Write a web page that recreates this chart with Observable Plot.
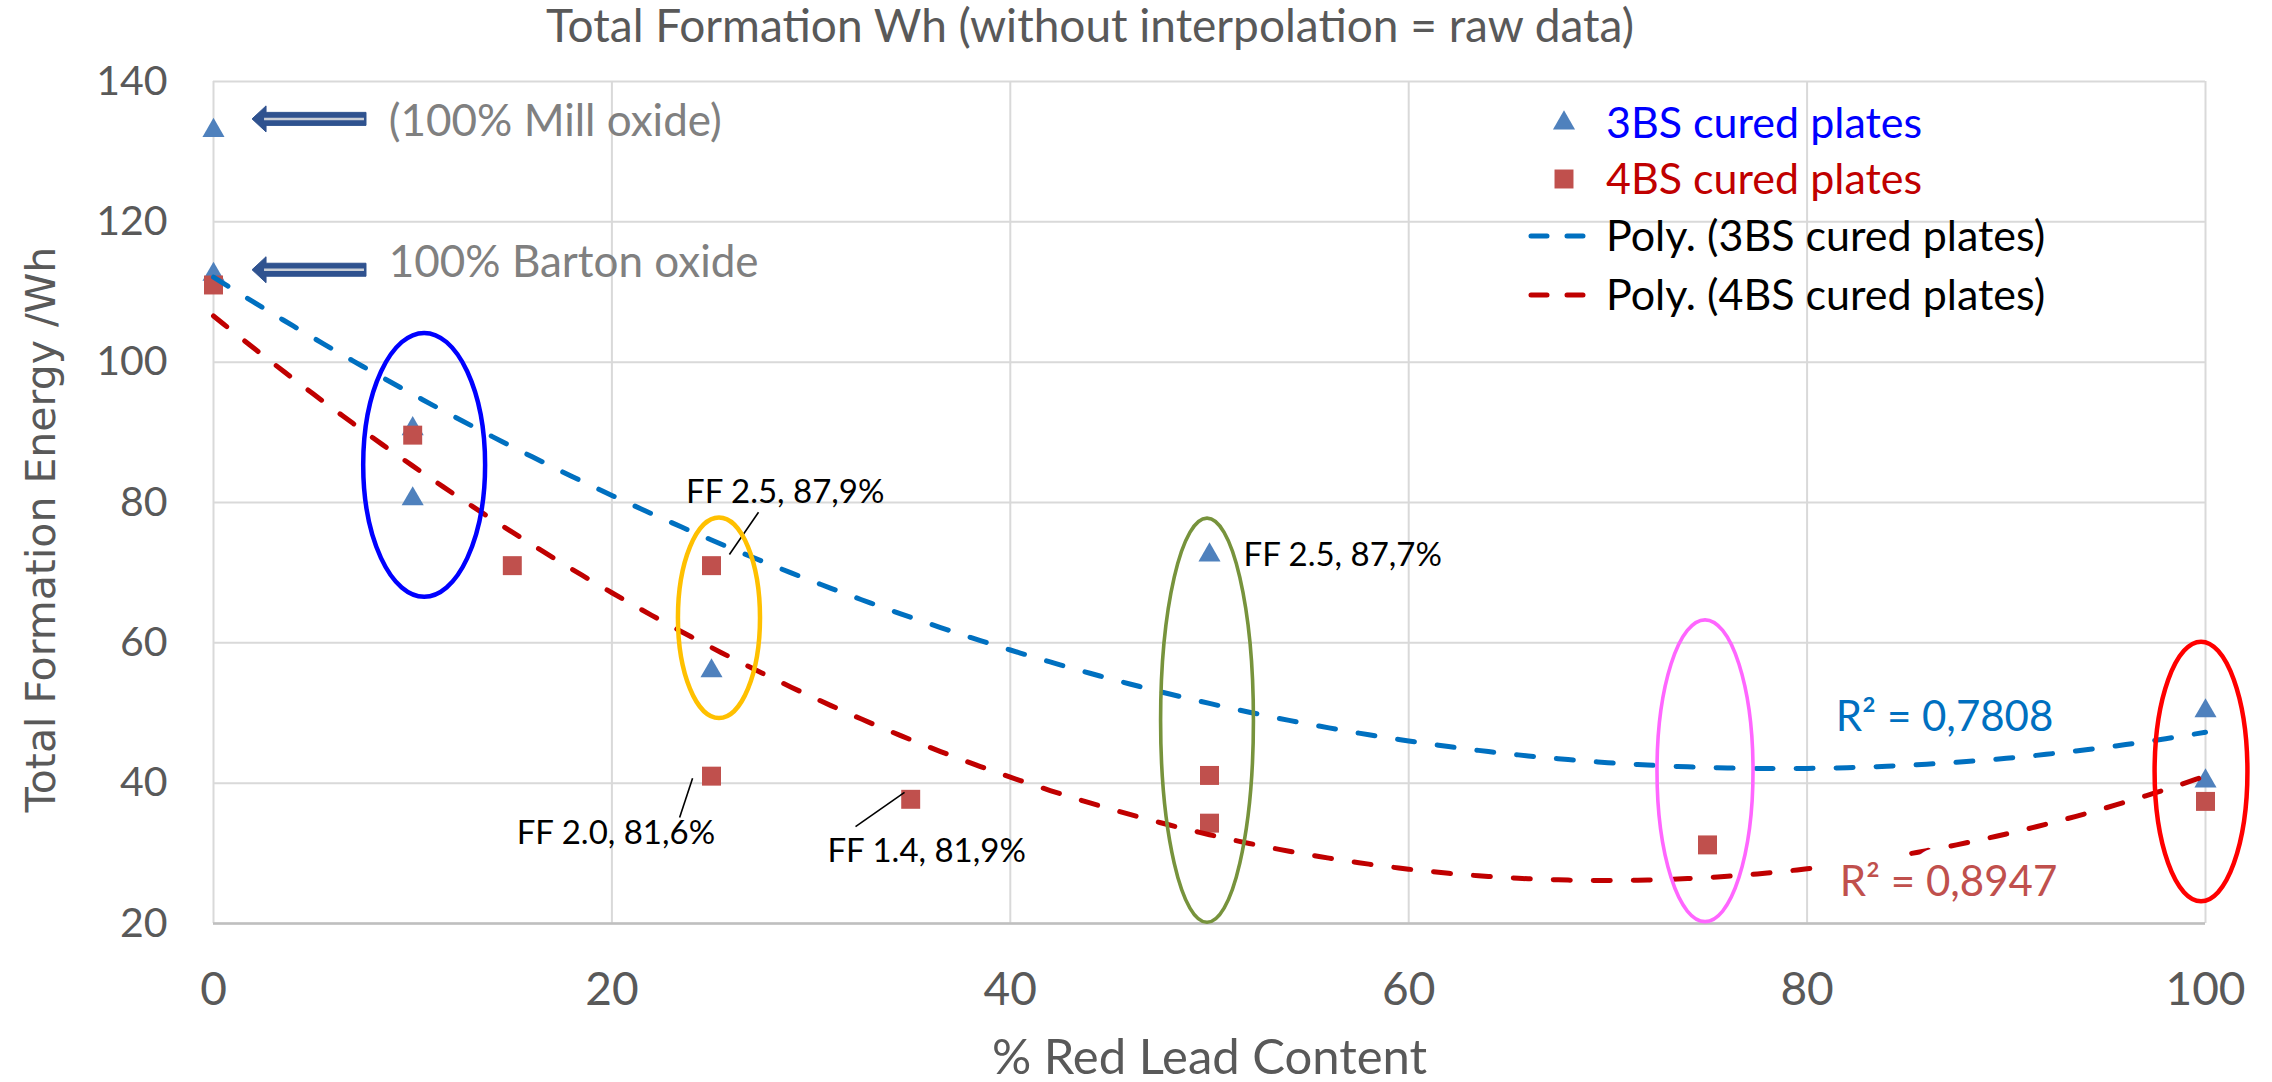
<!DOCTYPE html>
<html>
<head>
<meta charset="utf-8">
<script src="https://cdn.jsdelivr.net/npm/d3@7"></script>
<script src="https://cdn.jsdelivr.net/npm/@observablehq/plot@0.6"></script>
<style>
  html, body { margin: 0; padding: 0; background: #ffffff; }
  #chart { position: relative; width: 2272px; height: 1082px; }
</style>
</head>
<body>
<div id="chart"></div>
<script>
// Total formation energy (Wh) against % red lead content
const redLead3BS = [0, 0, 10, 10, 25, 50, 100, 100];
const energy3BS  = [133, 112.5, 90.5, 80.5, 56, 72.5, 50.3, 40.3];
const redLead4BS = [0, 10, 15, 25, 25, 35, 50, 50, 75, 100];
const energy4BS  = [111, 89.6, 71, 71, 41, 37.7, 41.1, 34.3, 31.2, 37.4];

const xTicks = [0, 20, 40, 60, 80, 100];
const yTicks = [20, 40, 60, 80, 100, 120, 140];

const titleText = "Total Formation Wh (without interpolation = raw data)";
const xTitle = "% Red Lead Content";
const yTitle = "Total Formation Energy /Wh";
const seriesNames = ["3BS cured plates", "4BS cured plates", "Poly. (3BS cured plates)", "Poly. (4BS cured plates)"];
const rSquaredText = ["R² = 0,7808", "R² = 0,8947"];

// Annotations
const oxideText = ["(100% Mill oxide)", "100% Barton oxide"];
const oxideY = [134.2, 114.2];
const arrowY = [134.6, 113.1];
const ffText = ["FF 2.5, 87,9%", "FF 2.0, 81,6%", "FF 1.4, 81,9%"];
const ffX = [28.7, 20.2, 35.8];
const ffY = [81.5, 32.9, 30.2];
const ffSideText = "FF 2.5, 87,7%";
const leaderX1 = [27.36, 24.05, 34.69];
const leaderY1 = [78.6, 40.7, 38.7];
const leaderX2 = [25.9, 23.4, 32.23];
const leaderY2 = [72.6, 35.1, 33.8];

// Highlight rings around groups of plates (centre, half-width and half-height in data units)
const ringX  = [10.6, 25.4, 49.9, 74.9, 99.8];
const ringY  = [85.3, 63.5, 48.9, 41.7, 41.6];
const ringRx = [3.06, 2.06, 2.33, 2.41, 2.33];
const ringRy = [18.8, 14.3, 28.8, 21.5, 18.5];
const ringColor = ["#0000FF", "#FFC000", "#77933C", "#FF66FF", "#FF0000"];
const ringWidth = [4.5, 4.5, 3.6, 3.6, 4.5];

// Second-order least-squares fit, as used for the "Poly." trendlines
function quadFit(xs, ys) {
  const S = k => d3.sum(xs, x => x ** k);
  const T = k => d3.sum(xs, (x, i) => x ** k * ys[i]);
  const m = [[S(0), S(1), S(2), T(0)], [S(1), S(2), S(3), T(1)], [S(2), S(3), S(4), T(2)]];
  for (let i = 0; i < 3; i++) {
    for (let j = i + 1; j < 3; j++) {
      const f = m[j][i] / m[i][i];
      for (let k = i; k < 4; k++) m[j][k] -= f * m[i][k];
    }
  }
  const c = [0, 0, 0];
  for (let i = 2; i >= 0; i--) {
    let s = m[i][3];
    for (let k = i + 1; k < 3; k++) s -= m[i][k] * c[k];
    c[i] = s / m[i][i];
  }
  return c;
}

const pts3 = redLead3BS.map((x, i) => ({x, y: energy3BS[i]}));
const pts4 = redLead4BS.map((x, i) => ({x, y: energy4BS[i]}));
const c3 = quadFit(redLead3BS, energy3BS);
const c4 = quadFit(redLead4BS, energy4BS);
const xs = d3.range(0, 100.25, 0.5);
const trend3 = xs.map(x => ({x, y: c3[0] + c3[1] * x + c3[2] * x * x}));
const trend4 = xs.map(x => ({x, y: c4[0] + c4[1] * x + c4[2] * x * x}));

const leaders = leaderX1.map((x, i) => ({x1: x, y1: leaderY1[i], x2: leaderX2[i], y2: leaderY2[i]}));
const ffLabels = ffText.map((t, i) => ({t, x: ffX[i], y: ffY[i]}));

const BLUE_LINE = "#0070C0", RED_LINE = "#C00000";
const GREY = "#595959";
const DASH = "17,23";

const chart = Plot.plot({
  width: 2272,
  height: 1082,
  marginLeft: 213,
  marginRight: 67,
  marginTop: 81,
  marginBottom: 159,
  style: {fontFamily: "Lato, sans-serif", background: "#ffffff", overflow: "visible"},
  x: {domain: [0, 100]},
  y: {domain: [20, 140]},
  marks: [
    Plot.gridY(yTicks, {stroke: "#d9d9d9", strokeOpacity: 1, strokeWidth: 2}),
    Plot.gridX(xTicks, {stroke: "#d9d9d9", strokeOpacity: 1, strokeWidth: 2}),
    Plot.ruleY([20], {stroke: "#bfbfbf", strokeWidth: 2.5}),
    Plot.axisY(yTicks, {tickSize: 0, tickPadding: 46, fontSize: 41, fill: GREY, label: null}),
    Plot.axisX(xTicks, {tickSize: 0, tickPadding: 49, fontSize: 46, fill: GREY, label: null}),
    Plot.text([xTitle], {text: d => d, frameAnchor: "bottom", dy: 135, lineAnchor: "middle", fontSize: 49, fill: GREY}),
    Plot.text([yTitle], {text: d => d, frameAnchor: "left", textAnchor: "middle", rotate: -90, dx: -172, dy: 27,
      lineAnchor: "middle", fontSize: 41, fontFamily: "DejaVu Sans, sans-serif", fill: GREY}),
    Plot.dot(pts3, {x: "x", y: "y", symbol: "triangle", r: 8.2, fill: "#4F81BD", stroke: "none"}),
    Plot.dot(pts4, {x: "x", y: "y", symbol: "square", r: 10.7, fill: "#C0504D", stroke: "none"}),
    Plot.line(trend3, {x: "x", y: "y", stroke: BLUE_LINE, strokeWidth: 5, strokeDasharray: DASH, strokeLinecap: "round"}),
    Plot.line(trend4, {x: "x", y: "y", stroke: RED_LINE, strokeWidth: 5, strokeDasharray: DASH, strokeLinecap: "round"}),
    Plot.link(leaders, {x1: "x1", y1: "y1", x2: "x2", y2: "y2", stroke: "#000", strokeWidth: 1.6}),
    Plot.text(ffLabels, {x: "x", y: "y", text: "t", fontSize: 33, fill: "#000", lineAnchor: "middle"}),
    Plot.text([pts3[5]], {x: "x", y: "y", text: () => ffSideText, dx: 34, textAnchor: "start", fontSize: 33, fill: "#000", lineAnchor: "middle"}),
    Plot.text(oxideText, {x: () => 8.8, y: (d, i) => oxideY[i], text: d => d, textAnchor: "start", fontSize: 44, fill: "#808080", lineAnchor: "middle"}),
    Plot.text([rSquaredText[0]], {x: () => 86.9, y: () => 49.3, text: d => d, fontSize: 42, fill: BLUE_LINE, lineAnchor: "middle"}),
    Plot.text([rSquaredText[1]], {x: () => 87.1, y: () => 25.9, text: d => d, fontSize: 42, fill: "#C0504D", lineAnchor: "middle",
      stroke: "#ffffff", strokeWidth: 34, strokeLinejoin: "round"})
  ]
});

document.getElementById("chart").appendChild(chart);

const sx = chart.scale("x"), sy = chart.scale("y");
const svg = d3.select(chart);

// Highlight rings
const rings = svg.append("g").attr("fill", "none");
ringX.forEach((cx, i) => {
  rings.append("ellipse")
    .attr("cx", sx.apply(cx))
    .attr("cy", sy.apply(ringY[i]))
    .attr("rx", Math.abs(sx.apply(cx + ringRx[i]) - sx.apply(cx)))
    .attr("ry", Math.abs(sy.apply(ringY[i] + ringRy[i]) - sy.apply(ringY[i])))
    .attr("stroke", ringColor[i])
    .attr("stroke-width", ringWidth[i]);
});

// Block arrows pointing at the 0 % red lead points
const arrows = svg.append("g");
arrowY.forEach(v => {
  const cy = sy.apply(v), hx = sx.apply(1.96), tx = sx.apply(7.68);
  const headLen = 14, headH = 13, shaftH = 6.5;
  arrows.append("path")
    .attr("d", `M${hx},${cy} L${hx + headLen},${cy - headH} L${hx + headLen},${cy - shaftH} L${tx},${cy - shaftH}
                L${tx},${cy + shaftH} L${hx + headLen},${cy + shaftH} L${hx + headLen},${cy + headH} Z`)
    .attr("fill", "#2F528F")
    .attr("stroke", "#2F528F")
    .attr("stroke-width", 1);
  arrows.append("line")
    .attr("x1", hx + headLen - 2).attr("x2", tx - 2)
    .attr("y1", cy).attr("y2", cy)
    .attr("stroke", "#C9CED6").attr("stroke-width", 2.5);
});

// Title
svg.append("text")
  .attr("x", 1090).attr("y", 26).attr("dy", "0.35em")
  .attr("text-anchor", "middle")
  .attr("font-size", 46).attr("fill", GREY)
  .text(titleText);

// Legend
const legend = svg.append("g").attr("font-size", 43).attr("text-anchor", "start");
const rowY = [123, 179, 236, 295];
const textColor = ["#0000FF", "#C00000", "#000000", "#000000"];
legend.append("path").attr("d", d3.symbol(d3.symbolTriangle, Math.PI * 8.2 * 8.2)())
  .attr("transform", `translate(1564,${rowY[0]})`).attr("fill", "#4F81BD");
legend.append("path").attr("d", d3.symbol(d3.symbolSquare, Math.PI * 10.7 * 10.7)())
  .attr("transform", `translate(1564,${rowY[1]})`).attr("fill", "#C0504D");
[BLUE_LINE, RED_LINE].forEach((c, i) => {
  legend.append("line")
    .attr("x1", 1531).attr("x2", 1586)
    .attr("y1", rowY[2 + i]).attr("y2", rowY[2 + i])
    .attr("stroke", c).attr("stroke-width", 5)
    .attr("stroke-dasharray", "16,20").attr("stroke-linecap", "round");
});
seriesNames.forEach((name, i) => {
  legend.append("text")
    .attr("x", 1606).attr("y", rowY[i]).attr("dy", "0.35em")
    .attr("text-anchor", "start")
    .attr("fill", textColor[i])
    .text(name);
});
</script>
</body>
</html>
